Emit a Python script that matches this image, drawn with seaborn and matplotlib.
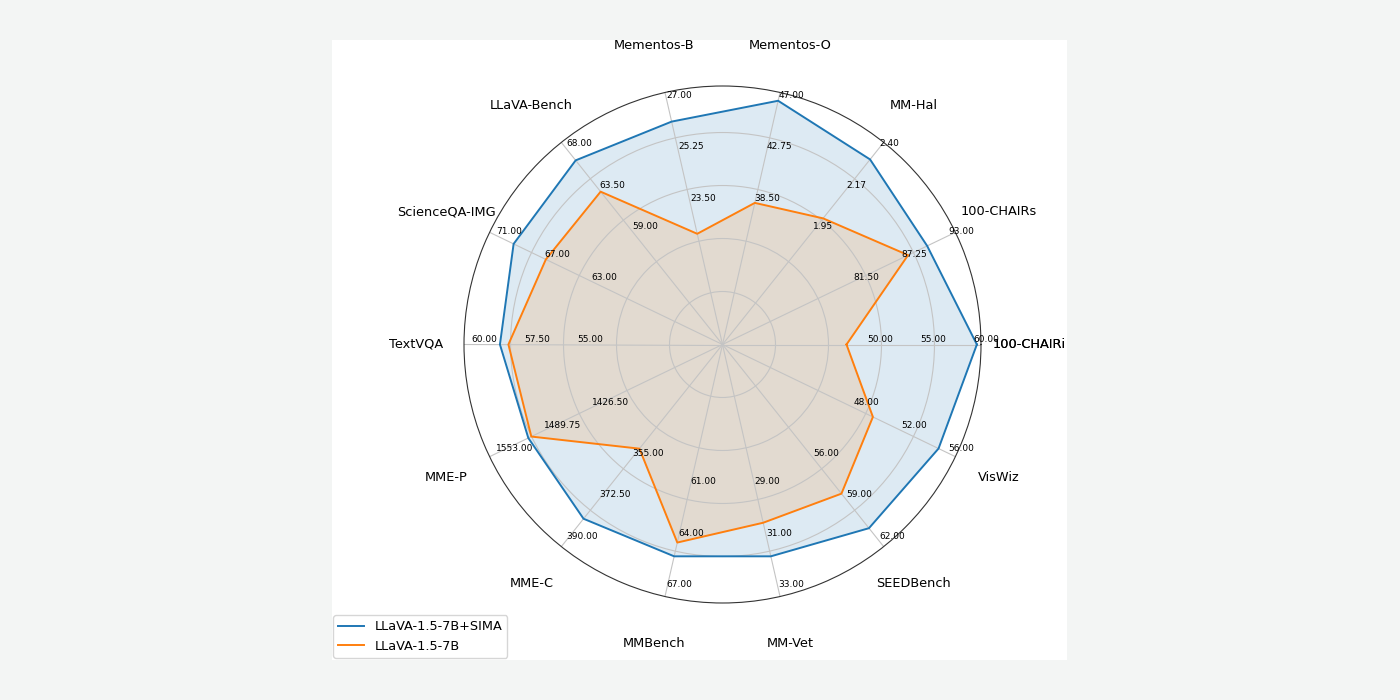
import numpy as np
import matplotlib
matplotlib.use("Agg")
import matplotlib.pyplot as plt
from matplotlib.patches import Rectangle
import seaborn as sns

# Benchmarks, counter-clockwise starting from the right
benchmarks = ["100-CHAIRi", "100-CHAIRs", "MM-Hal", "Mementos-O", "Mementos-B",
              "LLaVA-Bench", "ScienceQA-IMG", "TextVQA", "MME-P", "MME-C",
              "MMBench", "MM-Vet", "SEEDBench", "VisWiz"]

# labelled rings of each spoke: inner and outer value (middle one is halfway)
tick_low = [50.0, 81.5, 1.95, 38.5, 23.5, 59.0, 63.0, 55.0, 1426.5, 355.0, 61.0, 29.0, 56.0, 48.0]
tick_high = [60.0, 93.0, 2.40, 47.0, 27.0, 68.0, 71.0, 60.0, 1553.0, 390.0, 67.0, 33.0, 62.0, 56.0]

sima_scores = [59.0, 88.9, 2.28, 45.8, 25.8, 65.5, 68.5, 58.0, 1494.0, 376.1, 64.3, 31.2, 60.3, 54.1]
llava_scores = [46.7, 86.6, 1.96, 37.4, 22.0, 62.1, 65.8, 57.6, 1490.0, 346.5, 63.5, 29.9, 57.8, 48.6]

model_names = ["LLaVA-1.5-7B+SIMA", "LLaVA-1.5-7B"]

RING = 0.205  # radial distance between two grid rings (axes units)


def to_radius(values):
    """Scale every benchmark value onto the shared ring grid."""
    out = []
    for v, lo, hi in zip(values, tick_low, tick_high):
        step = (hi - lo) / 2
        out.append((v - (lo - 3 * step)) / step * RING)
    return np.array(out)


angles = np.linspace(0, 2 * np.pi, len(benchmarks), endpoint=False)
closed_angles = np.append(angles, angles[0])

palette = sns.color_palette("tab10")

fig = plt.figure(figsize=(14, 7), dpi=100, facecolor="#f3f5f4")
fig.patches.append(Rectangle((332 / 1400, 40 / 700), 735 / 1400, 620 / 700,
                             transform=fig.transFigure, facecolor="white",
                             edgecolor="none", zorder=-10))

ax = fig.add_axes([464 / 1400, 97 / 700, 517 / 1400, 517 / 700], polar=True)
ax.set_facecolor("white")
ax.set_ylim(0, 1)
ax.set_xticks(angles)
ax.set_xticklabels([])
ax.set_yticks([RING * k for k in range(1, 5)])
ax.set_yticklabels([])
ax.grid(True, color="#c4c4c4", linewidth=0.8)
ax.spines["polar"].set_color("#333333")
ax.spines["polar"].set_linewidth(0.8)

handles = []
for scores, name, color in zip([sima_scores, llava_scores], model_names, palette[:2]):
    r = to_radius(scores)
    r_closed = np.append(r, r[0])
    ax.fill(closed_angles, r_closed, color=color, alpha=0.15, linewidth=0)
for scores, name, color in zip([sima_scores, llava_scores], model_names, palette[:2]):
    r = to_radius(scores)
    r_closed = np.append(r, r[0])
    sns.lineplot(x=closed_angles, y=r_closed, sort=False, estimator=None,
                 color=color, linewidth=1.4, ax=ax)
    handles.append(ax.lines[-1])

# ring labels along every spoke
for ang, lo, hi in zip(angles, tick_low, tick_high):
    for k, val in enumerate([lo, (lo + hi) / 2, hi]):
        ax.text(ang, RING * (3 + k) - 0.054, f"{val:.2f}", fontsize=6.5,
                ha="left", va="bottom", color="black", zorder=5)

# benchmark names around the outside
for ang, name in zip(angles, benchmarks):
    ax.text(ang, 1.185, name, fontsize=9.3, ha="center", va="center")
ax.text(angles[0], 1.185, benchmarks[0], fontsize=9.3, ha="center", va="center")

fig.legend(handles, model_names, loc="lower left",
           bbox_to_anchor=(333 / 1400, 42 / 700), borderaxespad=0,
           fontsize=9.3)

fig.savefig("out.png", dpi=100, facecolor=fig.get_facecolor())
